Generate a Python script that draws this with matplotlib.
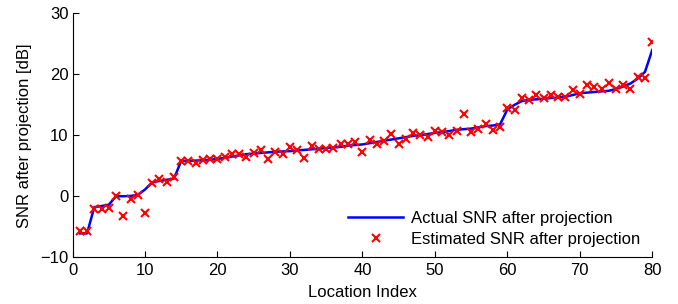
import numpy as np
import matplotlib as mpl
mpl.use('Agg')
import matplotlib.pyplot as plt

mpl.rcParams['font.family'] = ['Liberation Sans', 'DejaVu Sans']

# location index 1..80
location_idx = np.arange(1, 81)

# actual SNR after projection (sorted)
actual_snr = [-6.1, -6.1, -1.8, -1.6, -1.4, 0.0, 0.0, 0.05, 0.2, 1.1,
              2.3, 2.5, 2.7, 2.9, 5.8, 5.8, 5.85, 5.9, 6.0, 6.1,
              6.3, 6.5, 6.7, 6.9, 7.0, 7.1, 7.2, 7.3, 7.35, 7.4,
              7.5, 7.6, 7.7, 7.8, 7.9, 8.0, 8.1, 8.3, 8.4, 8.5,
              8.7, 8.9, 9.1, 9.3, 9.5, 9.7, 9.9, 10.0, 10.2, 10.4,
              10.5, 10.7, 10.9, 11.0, 11.1, 11.3, 11.5, 11.6, 11.8, 14.2,
              15.0, 15.6, 15.8, 15.9, 16.0, 16.1, 16.2, 16.3, 16.6, 16.9,
              17.0, 17.1, 17.2, 17.3, 17.6, 18.0, 18.5, 19.3, 20.4, 24.0]

# estimated SNR after projection
estimated_snr = [-5.7, -5.7, -2.1, -2.1, -2.0, 0.05, -3.2, -0.4, 0.2, -2.8,
                 2.2, 2.9, 2.3, 3.1, 5.8, 5.8, 5.5, 5.9, 6.05, 6.05,
                 6.5, 6.9, 6.9, 6.5, 7.05, 7.6, 6.05, 7.3, 6.9, 8.0,
                 7.6, 6.2, 8.2, 7.7, 7.7, 7.9, 8.5, 8.5, 8.95, 7.2,
                 9.2, 8.5, 9.07, 10.2, 8.5, 9.35, 10.45, 10.05, 9.7, 10.75,
                 10.6, 10.05, 10.75, 13.5, 10.6, 11.0, 11.8, 10.9, 11.3, 14.55,
                 14.1, 16.1, 15.8, 16.6, 16.1, 16.6, 16.3, 16.2, 17.4, 16.7,
                 18.3, 18.0, 17.6, 18.5, 17.6, 18.2, 17.6, 19.6, 19.4, 25.3]

fs = 12

fig = plt.figure(figsize=(6.78, 3.04), dpi=100)
ax = fig.add_axes([0.107, 0.154, 0.855, 0.802])

ax.plot(location_idx, actual_snr, color='#0000ff', linewidth=1.8,
        label='Actual SNR after projection', zorder=2)
ax.plot(location_idx, estimated_snr, linestyle='none', marker='x',
        color='#ff0000', markersize=6, markeredgewidth=1.5,
        label='Estimated SNR after projection', zorder=3)

ax.set_xlim(0, 80)
ax.set_ylim(-10, 30)
ax.set_xticks(range(0, 81, 10))
ax.set_yticks(range(-10, 31, 10))
ax.set_xlabel('Location Index', fontsize=fs, labelpad=5)
ax.set_ylabel('SNR after projection [dB]', fontsize=fs, labelpad=6)
ax.tick_params(direction='in', labelsize=fs, length=4, width=0.8)
ax.tick_params(axis='x', pad=4)
ax.tick_params(axis='y', pad=3)

ax.spines['top'].set_visible(False)
ax.spines['right'].set_visible(False)
for s in ['left', 'bottom']:
    ax.spines[s].set_linewidth(0.8)

ax.legend(loc='lower right', bbox_to_anchor=(0.979, 0.042), frameon=False,
          fontsize=fs, handlelength=3.3, handletextpad=0.45,
          borderpad=0, borderaxespad=0, labelspacing=0.38)

fig.savefig('out.png', dpi=100)
